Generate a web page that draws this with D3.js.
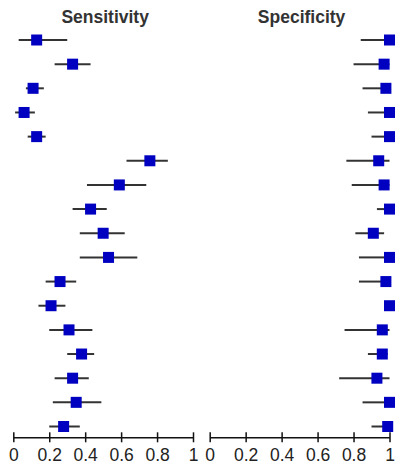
<!DOCTYPE html>
<html>
<head>
<meta charset="utf-8">
<script src="https://cdn.jsdelivr.net/npm/d3@7"></script>
<style>
  html, body { margin: 0; padding: 0; background: #fff; }
  svg { display: block; font-family: "Liberation Sans", Arial, sans-serif; }
</style>
</head>
<body>
<svg id="chart" width="396" height="464"></svg>
<script>
// ---------- data ----------
const studies = d3.range(1, 18).map(i => "S" + i);

const sensEst = [0.13, 0.33, 0.11, 0.06, 0.13, 0.76, 0.59, 0.43, 0.50, 0.53, 0.26, 0.21, 0.31, 0.38, 0.33, 0.35, 0.28];
const sensLo  = [0.03, 0.23, 0.07, 0.01, 0.08, 0.63, 0.41, 0.33, 0.37, 0.37, 0.18, 0.14, 0.20, 0.30, 0.23, 0.22, 0.20];
const sensHi  = [0.30, 0.43, 0.17, 0.12, 0.18, 0.86, 0.74, 0.52, 0.62, 0.69, 0.35, 0.29, 0.44, 0.45, 0.42, 0.49, 0.37];

const specEst = [1.00, 0.97, 0.98, 1.00, 1.00, 0.94, 0.97, 1.00, 0.91, 1.00, 0.98, 1.00, 0.96, 0.96, 0.93, 1.00, 0.99];
const specLo  = [0.84, 0.80, 0.85, 0.88, 0.90, 0.76, 0.79, 0.93, 0.81, 0.83, 0.83, 0.97, 0.75, 0.88, 0.72, 0.85, 0.90];
const specHi  = [1.00, 1.00, 1.00, 1.00, 1.00, 1.00, 1.00, 1.00, 0.97, 1.00, 1.00, 1.00, 1.00, 0.99, 1.00, 1.00, 1.00];

const tickValues = [0, 0.2, 0.4, 0.6, 0.8, 1];
const tickLabels = ["0", "0.2", "0.4", "0.6", "0.8", "1"];

// ---------- layout ----------
const svg = d3.select("#chart");
const boxColor = "#0000c0";
const lineColor = "#333";
const sq = 11;

const y = d3.scalePoint().domain(studies).range([40, 426.5]);
const axisY = 437.3;

const panels = [
  { title: "Sensitivity", est: sensEst, lo: sensLo, hi: sensHi, range: [13.3, 193] },
  { title: "Specificity", est: specEst, lo: specLo, hi: specHi, range: [209.7, 389.5] },
];

panels.forEach(p => {
  const x = d3.scaleLinear().domain([0, 1]).range(p.range);
  const g = svg.append("g");

  // title
  g.append("text")
    .attr("x", (p.range[0] + p.range[1]) / 2 + 2)
    .attr("y", 23)
    .attr("text-anchor", "middle")
    .attr("font-size", 17.5)
    .attr("font-weight", "bold")
    .attr("fill", "#333")
    .text(p.title);

  // CI lines
  g.selectAll("line.ci")
    .data(studies)
    .enter()
    .append("line")
    .attr("class", "ci")
    .attr("x1", (d, i) => x(p.lo[i]))
    .attr("x2", (d, i) => x(p.hi[i]))
    .attr("y1", d => y(d))
    .attr("y2", d => y(d))
    .attr("stroke", lineColor)
    .attr("stroke-width", 2);

  // point estimates
  g.selectAll("rect.est")
    .data(studies)
    .enter()
    .append("rect")
    .attr("class", "est")
    .attr("x", (d, i) => x(p.est[i]) - sq / 2)
    .attr("y", d => y(d) - sq / 2)
    .attr("width", sq)
    .attr("height", sq)
    .attr("fill", boxColor);

  // axis
  const axis = d3.axisBottom(x)
    .tickValues(tickValues)
    .tickFormat((d, i) => tickLabels[i])
    .tickSizeOuter(0)
    .tickSizeInner(5);

  const ax = g.append("g")
    .attr("transform", `translate(0,${axisY})`)
    .call(axis);

  ax.select(".domain").attr("stroke", "#111").attr("stroke-width", 1.5);
  ax.selectAll(".tick line")
    .attr("y1", -5).attr("y2", 5)
    .attr("stroke", "#111").attr("stroke-width", 1.5);
  ax.selectAll(".tick text")
    .attr("y", 11)
    .attr("dy", "0.71em")
    .attr("font-size", 17.5)
    .attr("font-family", "Liberation Sans, Arial, sans-serif")
    .attr("fill", "#222");
});
</script>
</body>
</html>
